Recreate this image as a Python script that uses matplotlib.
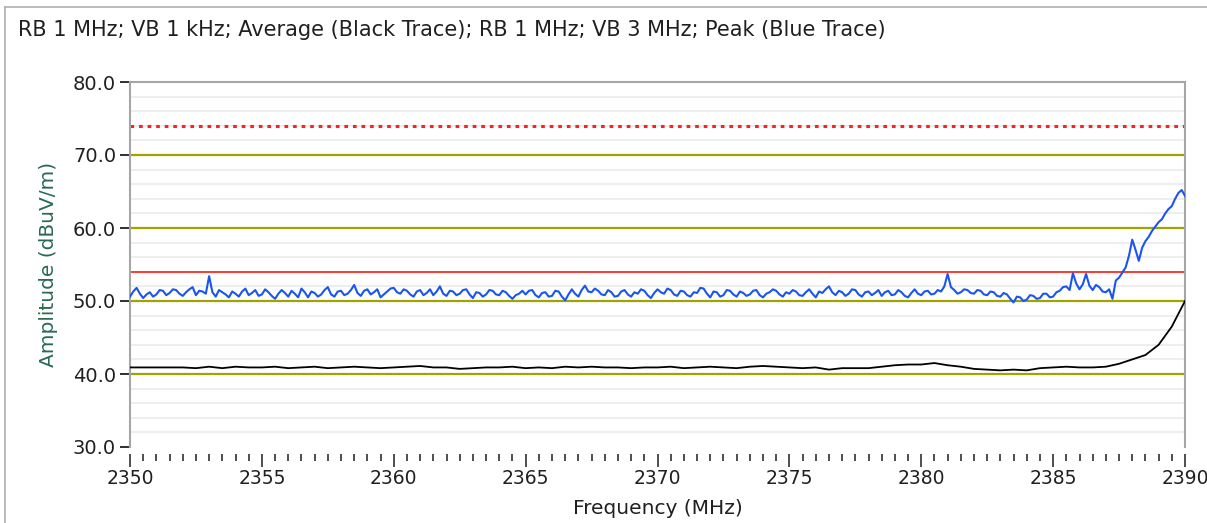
import numpy as np
import matplotlib
matplotlib.use("Agg")
import matplotlib.pyplot as plt
from matplotlib.lines import Line2D
from matplotlib.ticker import MultipleLocator, FormatStrFormatter

title = "RB 1 MHz; VB 1 kHz; Average (Black Trace); RB 1 MHz; VB 3 MHz; Peak (Blue Trace)"
x_label = "Frequency (MHz)"
y_label = "Amplitude (dBuV/m)"

# Peak trace (blue), 2350..2390 MHz, 0.125 MHz step
freq_start, freq_stop = 2350.0, 2390.0
peak_values = [
    50.6, 51.3, 51.8, 51.0, 50.4, 50.9, 51.2, 50.6, 50.9, 51.5, 51.4, 50.8, 51.1, 51.6, 51.5, 51.0, 50.7, 51.2, 51.6, 51.9,
    50.8, 51.4, 51.3, 51.0, 53.4, 51.2, 50.6, 51.5, 51.2, 50.9, 50.5, 51.3, 51.0, 50.6, 51.3, 51.7, 50.8, 51.1, 51.5, 50.7,
    50.9, 51.6, 51.2, 50.7, 50.3, 51.0, 51.5, 51.1, 50.6, 51.4, 51.0, 50.5, 51.7, 51.2, 50.5, 51.3, 51.1, 50.6, 50.9, 51.5,
    51.9, 50.9, 50.6, 51.3, 51.4, 50.8, 51.0, 51.5, 52.2, 51.1, 50.7, 51.4, 51.6, 50.9, 51.2, 51.6, 50.5, 50.9, 51.3, 51.7,
    51.8, 51.2, 51.0, 51.6, 51.4, 50.9, 50.6, 51.3, 51.5, 50.8, 51.1, 51.6, 50.8, 51.3, 52.0, 51.0, 50.7, 51.4, 51.3, 50.8,
    51.0, 51.5, 51.6, 50.9, 50.4, 51.2, 51.1, 50.6, 50.9, 51.5, 51.4, 50.9, 50.8, 51.4, 51.2, 50.7, 50.3, 50.8, 51.0, 51.4,
    50.9, 51.4, 51.5, 50.8, 50.5, 51.1, 51.2, 50.6, 50.7, 51.4, 51.3, 50.6, 50.1, 50.9, 51.6, 51.0, 50.6, 51.5, 52.1, 51.3,
    51.2, 51.7, 51.4, 50.9, 50.8, 51.5, 51.2, 50.6, 50.7, 51.3, 51.5, 50.9, 50.6, 51.2, 51.0, 51.6, 51.4, 50.8, 50.4, 51.1,
    51.6, 51.2, 51.0, 51.7, 51.5, 50.9, 50.7, 51.4, 51.3, 50.8, 50.6, 51.2, 51.1, 51.8, 51.7, 51.0, 50.5, 51.3, 51.2, 50.6,
    50.8, 51.5, 51.4, 50.9, 50.6, 51.3, 51.1, 50.7, 50.9, 51.4, 51.5, 50.8, 50.5, 51.0, 51.2, 51.6, 51.4, 50.9, 50.6, 51.2,
    51.0, 51.5, 51.3, 50.8, 50.7, 51.2, 51.6, 51.0, 50.5, 51.3, 51.1, 51.6, 52.0, 51.2, 50.8, 51.4, 51.2, 50.7, 51.0, 51.6,
    51.5, 50.9, 50.6, 51.2, 51.3, 50.8, 51.1, 51.5, 50.7, 51.2, 51.4, 50.8, 50.9, 51.5, 51.2, 50.7, 50.5, 51.1, 51.6, 51.0,
    50.8, 51.3, 51.4, 50.9, 51.0, 51.5, 51.3, 52.0, 53.7, 51.9, 51.5, 51.0, 51.2, 51.6, 51.5, 51.1, 51.0, 51.5, 51.4, 50.9,
    50.8, 51.3, 51.2, 50.7, 50.6, 51.1, 50.9, 50.3, 49.8, 50.6, 50.5, 50.0, 50.2, 50.8, 50.7, 50.3, 50.4, 51.0, 51.0, 50.5,
    50.6, 51.2, 51.4, 51.9, 52.0, 51.5, 53.8, 52.4, 51.6, 52.3, 53.7, 52.1, 51.5, 52.2, 51.9, 51.3, 51.2, 51.6, 50.3, 52.8,
    53.2, 53.9, 54.6, 56.2, 58.4, 57.0, 55.5, 57.3, 58.2, 58.8, 59.6, 60.2, 60.8, 61.2, 62.0, 62.6, 63.0, 64.0, 64.8, 65.2,
    64.4,
]

# Average trace (black), 2350..2390 MHz, 0.5 MHz step
avg_values = [
    40.9, 40.9, 40.9, 40.9, 40.9, 40.8, 41.0, 40.8, 41.0, 40.9,
    40.9, 41.0, 40.8, 40.9, 41.0, 40.8, 40.9, 41.0, 40.9, 40.8,
    40.9, 41.0, 41.1, 40.9, 40.9, 40.7, 40.8, 40.9, 40.9, 41.0,
    40.8, 40.9, 40.8, 41.0, 40.9, 41.0, 40.9, 40.9, 40.8, 40.9,
    40.9, 41.0, 40.8, 40.9, 41.0, 40.9, 40.8, 41.0, 41.1, 41.0,
    40.9, 40.8, 40.9, 40.6, 40.8, 40.8, 40.8, 41.0, 41.2, 41.3,
    41.3, 41.5, 41.2, 41.0, 40.7, 40.6, 40.5, 40.6, 40.5, 40.8,
    40.9, 41.0, 40.9, 40.9, 41.0, 41.4, 42.0, 42.6, 44.0, 46.5,
    50.0,
]

olive_levels = [40.0, 50.0, 60.0, 70.0]
limit_avg = 54.0
limit_peak = 74.0

x_ticks = [2350, 2355, 2360, 2365, 2370, 2375, 2380, 2385, 2390]
y_ticks = [30.0, 40.0, 50.0, 60.0, 70.0, 80.0]

peak_x = np.linspace(freq_start, freq_stop, len(peak_values))
avg_x = np.linspace(freq_start, freq_stop, len(avg_values))

plt.rcParams['font.family'] = ['DejaVu Sans']
fig = plt.figure(figsize=(12.07, 5.23), dpi=100)
fig.patch.set_facecolor('white')
ax = fig.add_axes([130/1207, 1 - 447/523, 1055/1207, 365/523])

ax.set_xlim(2350, 2390)
ax.set_ylim(30, 80)

# minor light grid every 2 dB
ax.yaxis.set_minor_locator(MultipleLocator(2))
ax.grid(which='minor', axis='y', color='#ebebeb', linewidth=1.2)
for lv in olive_levels:
    ax.axhline(lv, color='#a3a300', linewidth=1.6, zorder=2)
ax.axhline(limit_avg, color='#ff3b30', linewidth=1.4, zorder=2)
ax.axhline(limit_peak, color='#ff2020', linewidth=2.2, linestyle=(0, (1.2, 1.6)), zorder=2)

ax.plot(avg_x, avg_values, color='black', linewidth=1.3, zorder=3)
ax.plot(peak_x, peak_values, color='#1a55f0', linewidth=1.5, zorder=4)

for s in ['top', 'left', 'right']:
    ax.spines[s].set_color('#a6a6a6')
    ax.spines[s].set_linewidth(1.5)
ax.spines['bottom'].set_visible(False)
ax.spines['bottom'].set_position(('outward', 5))

ax.set_xticks(x_ticks)
ax.xaxis.set_minor_locator(MultipleLocator(0.5))
ax.set_yticks(y_ticks)
ax.yaxis.set_major_formatter(FormatStrFormatter('%.1f'))
ax.tick_params(axis='y', which='major', length=7, width=1.4, color='#303030',
               labelsize=14, labelcolor='#202020', pad=3)
ax.tick_params(axis='y', which='minor', length=0)
ax.tick_params(axis='x', which='major', length=9, width=1.2, color='#303030',
               labelsize=13.5, labelcolor='#202020', pad=2)
ax.tick_params(axis='x', which='minor', length=5, width=1.2, color='#303030')
ax.xaxis.set_tick_params(which='both', direction='out')

ax.set_xlabel(x_label, fontsize=14.5, color='#202020', labelpad=8)
ax.set_ylabel(y_label, fontsize=14.5, color='#2a6a50', labelpad=11)

fig.text(18/1207, 1 - 30/523, title, fontsize=15, color='#202020', va='center', ha='left')

# panel frame
fig.add_artist(Line2D([5/1207, 5/1207], [0, 1 - 7/523], color='#b0b0b0', linewidth=1.2, transform=fig.transFigure))
fig.add_artist(Line2D([5/1207, 1], [1 - 7/523, 1 - 7/523], color='#b0b0b0', linewidth=1.2, transform=fig.transFigure))

fig.savefig('out.png', dpi=100, facecolor='white')
